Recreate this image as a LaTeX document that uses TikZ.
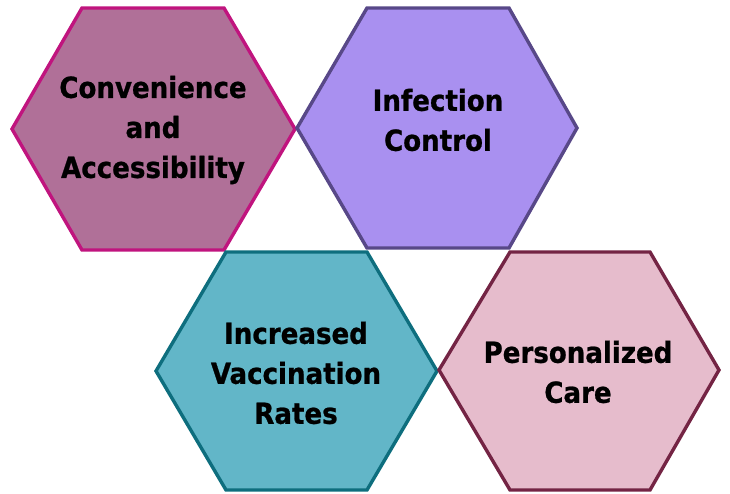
\documentclass[tikz,border=0pt]{standalone}
\usepackage{fontspec}
\setmainfont{DejaVu Sans}
\newfontfamily\condfont[BoldFeatures={FakeBold=0.8}]{DejaVu Sans Condensed}
\definecolor{fA}{HTML}{B07098}
\definecolor{dA}{HTML}{C0147E}
\definecolor{fB}{HTML}{A990F0}
\definecolor{dB}{HTML}{584888}
\definecolor{fC}{HTML}{62B6C8}
\definecolor{dC}{HTML}{0E6E7E}
\definecolor{fD}{HTML}{E6BCCC}
\definecolor{dD}{HTML}{742444}
\tikzset{
  hexa/.style={line width=3.4pt, line join=miter},
  lbl/.style={font=\condfont\fontsize{29}{40}\selectfont\bfseries, align=center, text=black, inner sep=0pt}
}
\begin{document}
\begin{tikzpicture}[x=1pt,y=-1pt]
\useasboundingbox (0,0) rectangle (730,494);
\draw[hexa, fill=fA, draw=dA] (12,129) -- (82,8) -- (224,8) -- (295,129) -- (224,250) -- (82,250) -- cycle;
\draw[hexa, fill=fB, draw=dB] (297,128) -- (367,8) -- (509,8) -- (577,128) -- (509,248) -- (367,248) -- cycle;
\draw[hexa, fill=fC, draw=dC] (156,371) -- (226,252) -- (367,252) -- (437,371) -- (367,490) -- (226,490) -- cycle;
\draw[hexa, fill=fD, draw=dD] (439,370) -- (510,252) -- (650,252) -- (719,370) -- (650,490) -- (510,490) -- cycle;
\node[lbl] (a) at (153,130) {Convenience\\and\\Accessibility};
\node[lbl] (b) at (438,120) {Infection\\Control};
\node[lbl] (c) at (296,373) {Increased\\Vaccination\\Rates};
\node[lbl] (d) at (578,372) {Personalized\\Care};
\end{tikzpicture}
\end{document}
